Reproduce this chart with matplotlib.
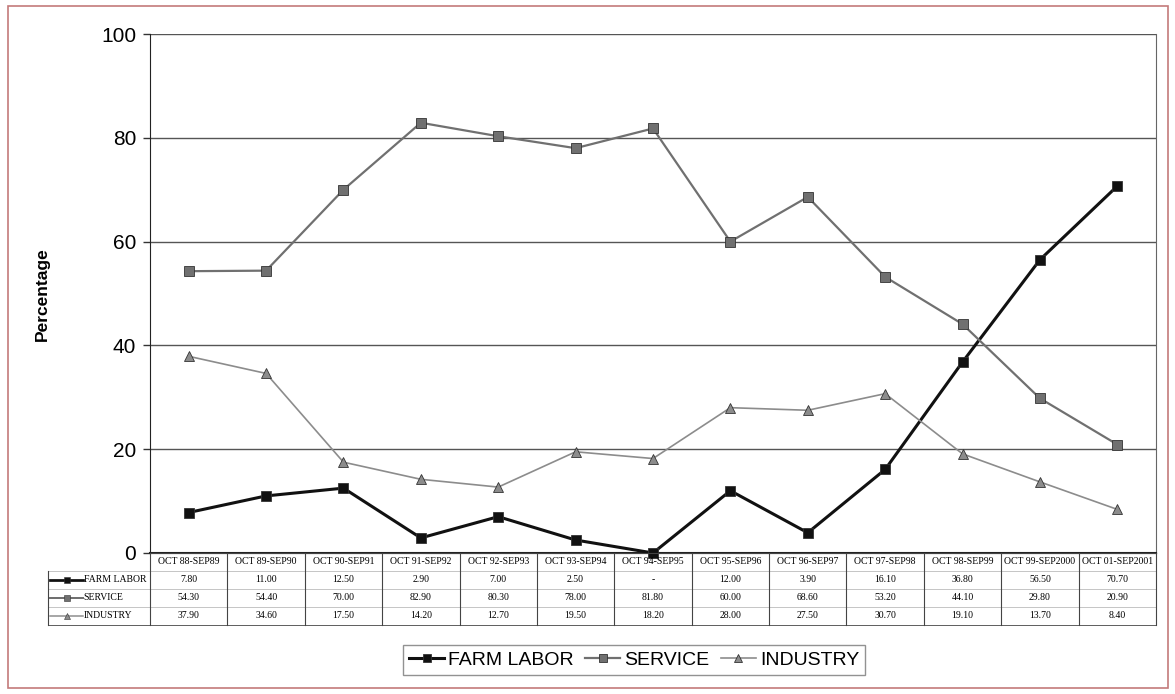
import matplotlib
matplotlib.use("Agg")
import matplotlib.pyplot as plt
from matplotlib.lines import Line2D
from matplotlib.patches import Rectangle

PERIODS = ["OCT 88-SEP89", "OCT 89-SEP90", "OCT 90-SEP91", "OCT 91-SEP92",
           "OCT 92-SEP93", "OCT 93-SEP94", "OCT 94-SEP95", "OCT 95-SEP96",
           "OCT 96-SEP97", "OCT 97-SEP98", "OCT 98-SEP99", "OCT 99-SEP2000",
           "OCT 01-SEP2001"]
FARM_LABOR = [7.8, 11.0, 12.5, 2.9, 7.0, 2.5, None, 12.0, 3.9, 16.1, 36.8, 56.5, 70.7]
SERVICE = [54.3, 54.4, 70.0, 82.9, 80.3, 78.0, 81.8, 60.0, 68.6, 53.2, 44.1, 29.8, 20.9]
INDUSTRY = [37.9, 34.6, 17.5, 14.2, 12.7, 19.5, 18.2, 28.0, 27.5, 30.7, 19.1, 13.7, 8.4]

SERIES = [
    ("FARM LABOR", FARM_LABOR, "#111111", "s", 2.2),
    ("SERVICE", SERVICE, "#707070", "s", 1.6),
    ("INDUSTRY", INDUSTRY, "#8c8c8c", "^", 1.2),
]

W, H = 1175, 694
PLOT_L, PLOT_R, PLOT_T, PLOT_B = 150, 1156, 34, 553
TABLE_L, TABLE_B = 48, 625

fig = plt.figure(figsize=(W / 100, H / 100), dpi=100)
fig.patch.set_facecolor("white")


def px_rect(x0, y0, x1, y1):
    return [x0 / W, 1 - y1 / H, (x1 - x0) / W, (y1 - y0) / H]


# outer border
fig.add_artist(Rectangle((8 / W, 1 - 688 / H), 1160 / W, 682 / H,
                         transform=fig.transFigure, fill=False,
                         edgecolor="#c47a7a", linewidth=1.2))

ax = fig.add_axes(px_rect(PLOT_L, PLOT_T, PLOT_R, PLOT_B))
x = list(range(len(PERIODS)))
for name, vals, color, marker, lw in SERIES:
    yv = [0.0 if v is None else v for v in vals]
    ax.plot(x, yv, color=color, linewidth=lw, marker=marker, markersize=6.5,
            markerfacecolor=color, markeredgecolor="#333333", markeredgewidth=0.6,
            label=name, zorder=3, clip_on=False)

ax.set_xlim(-0.5, len(PERIODS) - 0.5)
ax.set_ylim(0, 100)
ax.set_yticks([0, 20, 40, 60, 80, 100])
ax.tick_params(axis="y", labelsize=15, length=5, width=1, color="#333333", pad=5)
ax.set_xticks([])
for lab in ax.get_yticklabels():
    lab.set_family(["Liberation Sans", "DejaVu Sans"])
ax.grid(axis="y", color="#555555", linewidth=1.0)
ax.set_axisbelow(True)
ax.spines["top"].set_visible(False)
ax.spines["right"].set_color("#666666")
ax.spines["right"].set_linewidth(0.8)
ax.spines["left"].set_color("#222222")
ax.spines["bottom"].set_color("#222222")
ax.spines["bottom"].set_linewidth(1.5)
fig.text(42 / W, 1 - 294 / H, "Percentage", rotation=90, ha="center", va="center",
         fontsize=12.5, fontweight="bold", family=["Liberation Sans", "DejaVu Sans"])

# data table under the chart
col_w = (PLOT_R - PLOT_L) / len(PERIODS)
label_w = (PLOT_L - TABLE_L) / col_w
tax = fig.add_axes(px_rect(TABLE_L, PLOT_B, PLOT_R, TABLE_B))
x_left = -0.5 - label_w
x_right = len(PERIODS) - 0.5
tax.set_xlim(x_left, x_right)
tax.set_ylim(4, 0)
tax.axis("off")
lc = "#444444"
tax.plot([-0.5, x_right], [0, 0], color=lc, lw=0.8, clip_on=False)
for r in range(1, 5):
    tax.plot([x_left, x_right], [r, r], color="#bbbbbb" if r < 4 else lc, lw=0.6,
             clip_on=False)
for c in range(len(PERIODS) + 1):
    tax.plot([c - 0.5, c - 0.5], [0, 4], color=lc, lw=0.8, clip_on=False)
tax.plot([x_left, x_left], [1, 4], color=lc, lw=0.8, clip_on=False)

serif = ["Liberation Serif", "DejaVu Serif"]
for i, p in enumerate(PERIODS):
    tax.text(i, 0.5, p, ha="center", va="center", fontsize=7.0, family=serif)
for r, (name, vals, color, marker, lw) in enumerate(SERIES, start=1):
    for i, v in enumerate(vals):
        s = "-" if v is None else f"{v:.2f}"
        tax.text(i, r + 0.5, s, ha="center", va="center", fontsize=7.0, family=serif)
    x0 = x_left + 0.03
    tax.add_line(Line2D([x0, x0 + 0.42], [r + 0.5, r + 0.5], color=color, lw=lw * 0.9))
    tax.add_line(Line2D([x0 + 0.21], [r + 0.5], marker=marker, markersize=5,
                        color=color, markeredgecolor="#333333", markeredgewidth=0.4))
    tax.text(x0 + 0.43, r + 0.5, name, ha="left", va="center", fontsize=7.0, family=serif)

leg = fig.legend(loc="center", bbox_to_anchor=(634 / W, 1 - 660 / H), ncol=3,
                 prop={"family": ["Liberation Sans", "DejaVu Sans"], "size": 14},
                 handlelength=1.8, handletextpad=0.2, columnspacing=0.6,
                 fancybox=False, edgecolor="#777777", borderpad=0.3, markerscale=0.9)
leg.get_frame().set_linewidth(1.0)

fig.savefig("out.png", dpi=100)
